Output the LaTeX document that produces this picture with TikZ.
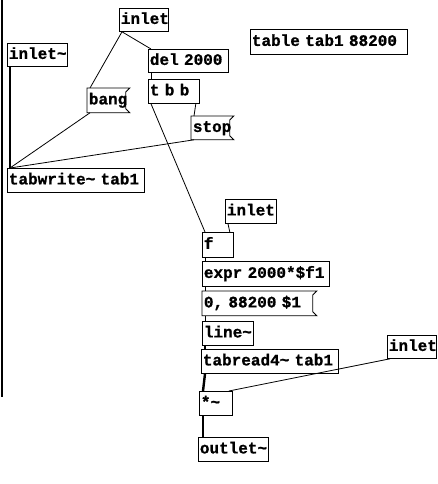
\documentclass[tikz,border=0pt]{standalone}
\usepackage{fontspec}
\setmonofont{Liberation Mono}[FakeBold=1]
\tikzset{
  obj/.style={draw, line width=0.8pt, anchor=north west, inner xsep=1.5pt, inner ysep=0pt,
    align=left, text height=10.5pt, text depth=2.5pt, font=\ttfamily\bfseries\fontsize{16}{18}\selectfont},
  msg/.style={obj, draw=none},
  ctl/.style={line width=0.8pt},
  sig/.style={line width=2.4pt}
}
\begin{document}
\begin{tikzpicture}[x=1pt, y=-1pt]
    \useasboundingbox (0,0) rectangle (437,484);
    % window edge
    \draw[line width=2pt] (1.5,0) -- (1.5,397);

    % recording part
    \node[obj, text width=46pt, minimum height=23pt] (tinlet) at (119,8) {inlet};
    \node[obj, text width=57pt, minimum height=23pt] (sinlet) at (7,43) {inlet\char`~};
    \node[obj, text width=77pt, minimum height=23pt] (del) at (148,49) {\mbox{del 2000}};
    \node[obj, text width=48pt, minimum height=24pt] (tbb) at (148,79) {\mbox{t b b}};
    \node[msg, text width=35pt, minimum height=24pt] (bang) at (87,88) {bang};
    \node[msg, text width=35pt, minimum height=23pt] (stop) at (191,116) {stop};
    \node[obj, text width=134pt, minimum height=24pt] (tabwrite) at (7,168) {\mbox{tabwrite\char`~\ tab1}};
    \node[obj, text width=154pt, minimum height=25pt] (table) at (250,29) {\mbox{table tab1 88200}};

    % playback part
    \node[obj, text width=48pt, minimum height=24pt] (minlet) at (225,199) {inlet};
    \node[obj, text width=28pt, minimum height=25pt] (f) at (202,232) {f};
    \node[obj, text width=124pt, minimum height=25pt] (expr) at (202,261) {\mbox{expr 2000*\$f1}};
    \node[msg, text width=107pt, minimum height=24pt] (msgz) at (202,291) {\mbox{0, 88200 \$1}};
    \node[obj, text width=48pt, minimum height=24pt] (line) at (202,321) {line\char`~};
    \node[obj, text width=134pt, minimum height=24pt] (tabread) at (201,349) {\mbox{tabread4\char`~\ tab1}};
    \node[obj, text width=46pt, minimum height=23pt] (rinlet) at (387,335) {inlet};
    \node[obj, text width=30pt, minimum height=24pt] (mul) at (199,391) {*\char`~};
    \node[obj, text width=67pt, minimum height=24pt] (outlet) at (198,437) {outlet\char`~};

    % message box flags
    \foreach \m in {bang,stop,msgz}
      \draw[line width=0.8pt] (\m.north west) -- ([xshift=4pt]\m.north east) -- ([yshift=-4pt]\m.north east)
        -- ([yshift=4pt]\m.south east) -- ([xshift=4pt]\m.south east) -- (\m.south west) -- cycle;

    % control connections
    \draw[ctl] ([xshift=3pt]tinlet.south west) -- ([xshift=3pt]bang.north west);
    \draw[ctl] ([xshift=3pt]tinlet.south west) -- ([xshift=3pt]del.north west);
    \draw[ctl] ([xshift=3pt]del.south west) -- ([xshift=3pt]tbb.north west);
    \draw[ctl] ([xshift=3pt]tbb.south west) -- ([xshift=3pt]f.north west);
    \draw[ctl] ([xshift=-4pt]tbb.south east) -- ([xshift=3pt]stop.north west);
    \draw[ctl] ([xshift=3pt]bang.south west) -- ([xshift=3pt]tabwrite.north west);
    \draw[ctl] ([xshift=3pt]stop.south west) -- ([xshift=3pt]tabwrite.north west);
    \draw[ctl] ([xshift=3pt]minlet.south west) -- ([xshift=-4pt]f.north east);
    \draw[ctl] ([xshift=3pt]f.south west) -- ([xshift=3pt]expr.north west);
    \draw[ctl] ([xshift=3pt]expr.south west) -- ([xshift=3pt]msgz.north west);
    \draw[ctl] ([xshift=3pt]msgz.south west) -- ([xshift=3pt]line.north west);
    \draw[ctl] ([xshift=3pt]rinlet.south west) -- ([xshift=-4pt]mul.north east);

    % signal connections
    \draw[sig] ([xshift=3pt]sinlet.south west) -- ([xshift=3pt]tabwrite.north west);
    \draw[sig] ([xshift=3pt]line.south west) -- ([xshift=4pt]tabread.north west);
    \draw[sig] ([xshift=4pt]tabread.south west) -- ([xshift=4pt]mul.north west);
    \draw[sig] ([xshift=4pt]mul.south west) -- ([xshift=5pt]outlet.north west);
\end{tikzpicture}
\end{document}
